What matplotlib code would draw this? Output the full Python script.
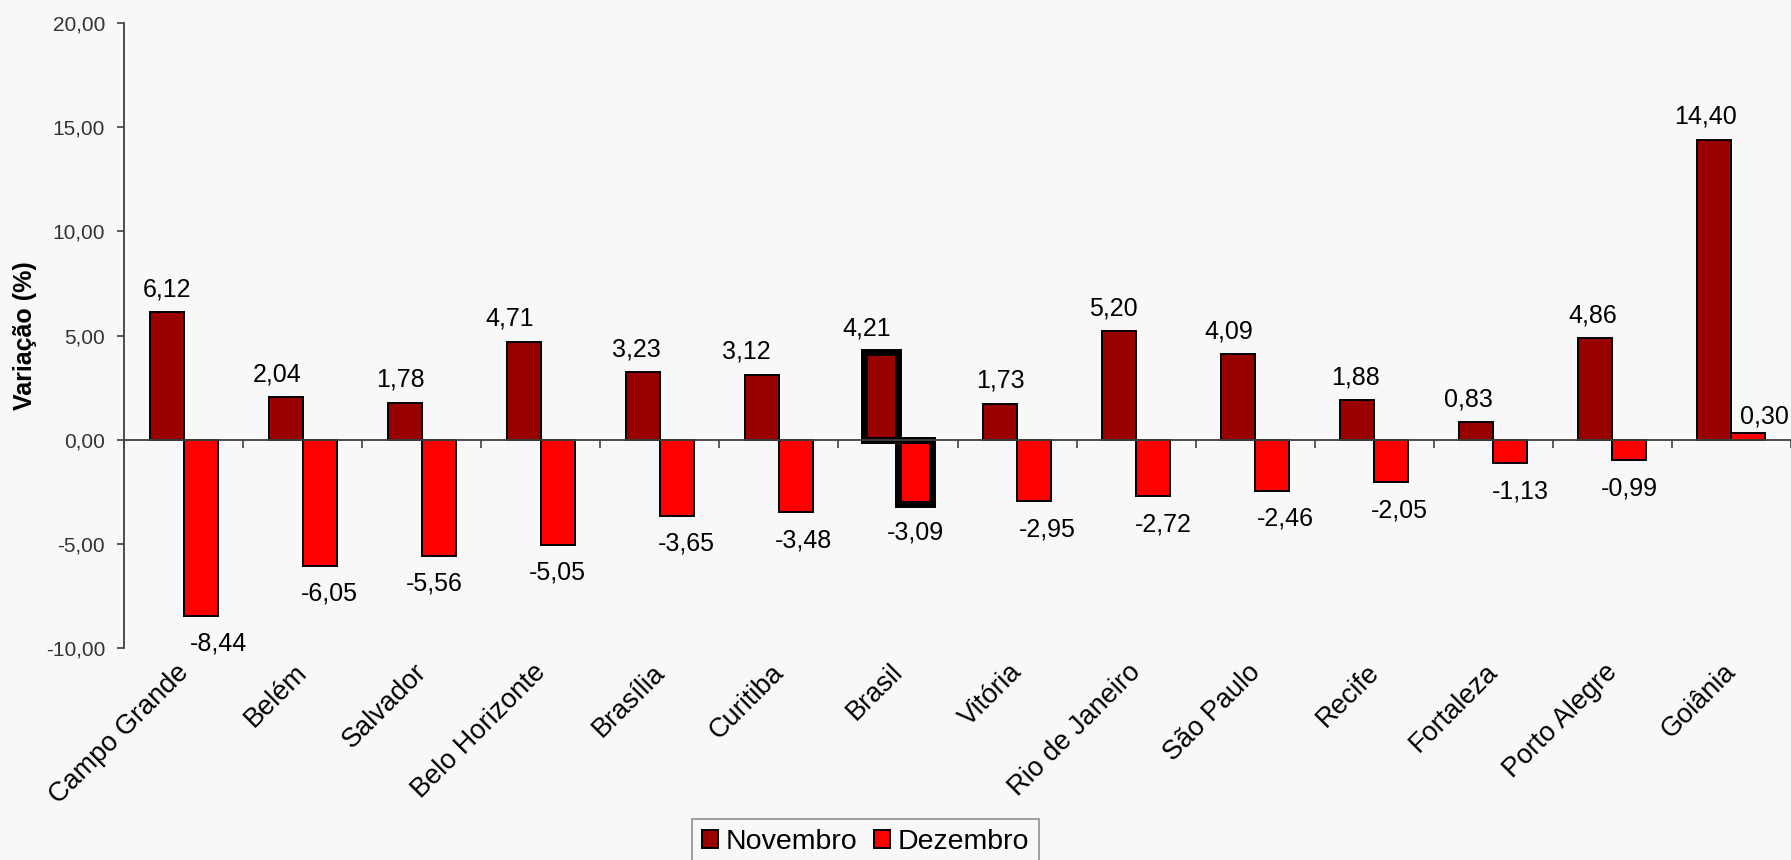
import numpy as np
import matplotlib
matplotlib.use("Agg")
import matplotlib.pyplot as plt
from matplotlib.ticker import FuncFormatter

plt.rcParams['font.family'] = ['Liberation Sans', 'DejaVu Sans']

cidades = ['Campo Grande', 'Belém', 'Salvador', 'Belo Horizonte', 'Brasília',
           'Curitiba', 'Brasil', 'Vitória', 'Rio de Janeiro', 'São Paulo',
           'Recife', 'Fortaleza', 'Porto Alegre', 'Goiânia']
novembro = [6.12, 2.04, 1.78, 4.71, 3.23, 3.12, 4.21, 1.73, 5.20, 4.09,
            1.88, 0.83, 4.86, 14.40]
dezembro = [-8.44, -6.05, -5.56, -5.05, -3.65, -3.48, -3.09, -2.95, -2.72,
            -2.46, -2.05, -1.13, -0.99, 0.30]
destaque = 'Brasil'

# label nudges (pixels)
nov_dx = [0, -8, -4, -14, -6, -16, -14, 0, -6, -9, -2, -8, -3, -9]
dez_dx = [18, 10, -4, 0, 10, 8, 0, 13, 10, 13, 8, 10, 0, 16]

COR_NOV = '#990000'
COR_DEZ = '#ff0000'
BG = '#f8f8f8'


def br(v):
    return f"{v:.2f}".replace('.', ',')


fig = plt.figure(figsize=(17.91, 8.60), dpi=100, facecolor=BG)
ax = fig.add_axes([124 / 1791, 1 - 648 / 860, 1 - 124 / 1791, (648 - 23) / 860])
ax.set_facecolor(BG)

x = np.arange(len(cidades))
w = 1 / 3.5
edges = [5.0 if c == destaque else 1.4 for c in cidades]
b1 = ax.bar(x - w / 2, novembro, w, color=COR_NOV, edgecolor='black',
            linewidth=edges, label='Novembro', zorder=3)
b2 = ax.bar(x + w / 2, dezembro, w, color=COR_DEZ, edgecolor='black',
            linewidth=edges, label='Dezembro', zorder=3)

for i, (n, d) in enumerate(zip(novembro, dezembro)):
    ax.annotate(br(n), (x[i] - w / 2, n), xytext=(nov_dx[i] * 0.72, 11.5),
                textcoords='offset points', ha='center', va='baseline',
                fontsize=18, color='black', zorder=5)
    if d < 0:
        ax.annotate(br(d), (x[i] + w / 2, d), xytext=(dez_dx[i] * 0.72, -11.5),
                    textcoords='offset points', ha='center', va='top',
                    fontsize=18, color='black', zorder=5)
    else:
        ax.annotate(br(d), (x[i] + w / 2, d), xytext=(dez_dx[i] * 0.72, 7),
                    textcoords='offset points', ha='center', va='baseline',
                    fontsize=18, color='black', zorder=5)

ax.set_xlim(-0.5, len(cidades) - 0.5)
ax.set_ylim(-10, 20)
ax.set_yticks(np.arange(-10, 20.1, 5))
ax.yaxis.set_major_formatter(FuncFormatter(lambda v, p: br(v)))
ax.tick_params(axis='y', direction='out', length=5, width=1.2, pad=8.5,
               labelsize=15, colors='#404040')
ax.tick_params(axis='y', labelcolor='#333333')

for s in ['top', 'right']:
    ax.spines[s].set_visible(False)
ax.spines['left'].set_color('#404040')
ax.spines['left'].set_linewidth(1.3)
ax.spines['bottom'].set_position(('data', 0))
ax.spines['bottom'].set_color('#404040')
ax.spines['bottom'].set_linewidth(1.3)
ax.spines['bottom'].set_zorder(4)
ax.set_xticks(np.arange(len(cidades) + 1) - 0.5)
ax.set_xticklabels([])
ax.tick_params(axis='x', direction='out', length=6, width=1.2, colors='#404040')

for i, c in enumerate(cidades):
    ax.annotate(c, (x[i], -10), xytext=(-6, -8), textcoords='offset points',
                rotation=45, ha='right', va='top', rotation_mode='anchor',
                fontsize=19.5, color='black', annotation_clip=False)

fig.text(25 / 1791, 1 - 336 / 860, 'Variação (%)', rotation=90,
         ha='center', va='center', fontsize=18, fontweight='bold')

leg = fig.legend(handles=[b1, b2], loc='upper left',
                 bbox_to_anchor=(692 / 1791, 1 - 819 / 860), ncol=2,
                 fontsize=20.5, frameon=True, fancybox=False, borderpad=0.35,
                 handlelength=0.56, handleheight=0.56, handletextpad=0.28,
                 columnspacing=0.56, borderaxespad=0)
leg.get_frame().set_edgecolor('#808080')
leg.get_frame().set_linewidth(1.3)
leg.get_frame().set_facecolor(BG)
for h in leg.legend_handles:
    h.set_linewidth(1.4)

fig.savefig('out.png', dpi=100, facecolor=BG)
